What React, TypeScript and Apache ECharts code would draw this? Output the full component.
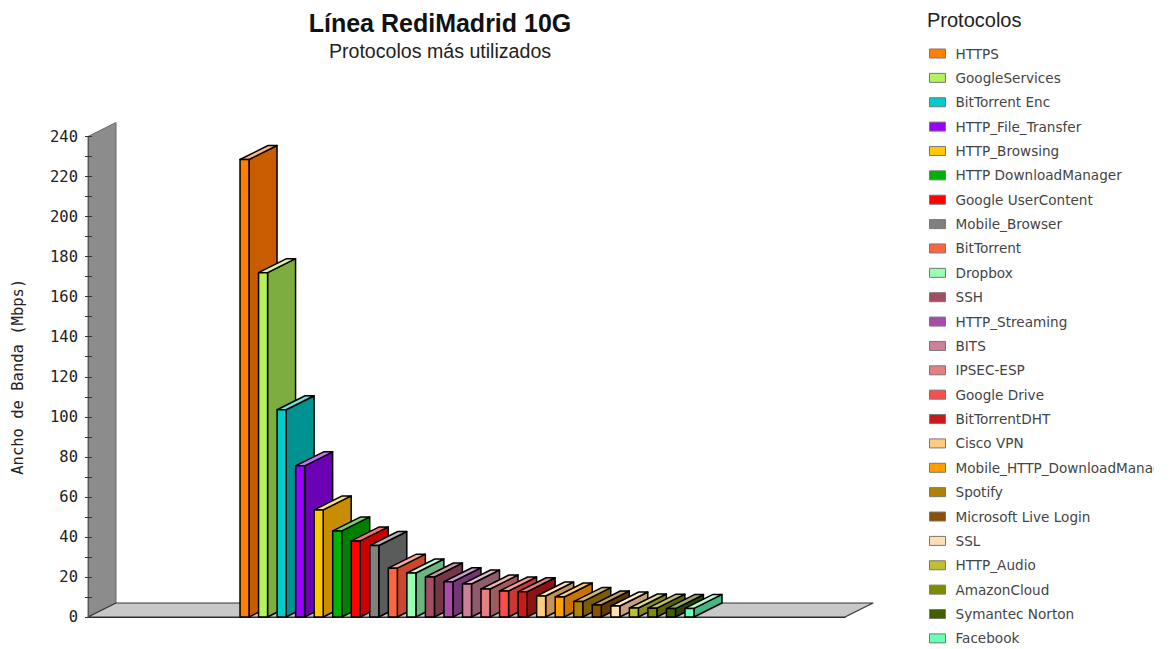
import React, { useEffect, useRef } from "react";
import * as echarts from "echarts";

const protocols = ["HTTPS","GoogleServices","BitTorrent Enc","HTTP_File_Transfer","HTTP_Browsing","HTTP DownloadManager","Google UserContent","Mobile_Browser","BitTorrent","Dropbox","SSH","HTTP_Streaming","BITS","IPSEC-ESP","Google Drive","BitTorrentDHT","Cisco VPN","Mobile_HTTP_DownloadManager","Spotify","Microsoft Live Login","SSL","HTTP_Audio","AmazonCloud","Symantec Norton","Facebook"];
const bandwidth = [228.5,172,103.5,75.5,53.5,43,38,35.7,24.4,22,20,17.6,16.5,14,13,12.6,10.5,10,7.7,6,5.5,4.5,4.4,4.2,4.3];
const colors = ["#ff8000","#b3f25a","#00cccc","#9900ff","#ffc800","#00b300","#ff0000","#808080","#ff6640","#99ffb3","#a64d66","#a64da6","#cc8099","#e68080","#ff4d4d","#cc1a1a","#ffcc80","#ffa000","#b38000","#8c5000","#ffdfb3","#bfbf33","#808c00","#406000","#66ffb3"];
const minorTicks = [0,10,20,30,40,50,60,70,80,90,100,110,120,130,140,150,160,170,180,190,200,210,220,230,240];
const majorTicks = [0,20,40,60,80,100,120,140,160,180,200,220,240];

const DX = 28, DY = -14, SLOT = 18.54, FRONT = 9;

function rgb(hex: string) {
  const n = parseInt(hex.slice(1), 16);
  return [(n >> 16) & 255, (n >> 8) & 255, n & 255];
}
function side(hex: string) {
  const c = rgb(hex);
  return `rgb(${Math.round(c[0] * (c[0] > 240 ? 0.79 : 0.7))},${Math.round(c[1] * 0.71)},${Math.round(c[2] * 0.71)})`;
}
function tint(hex: string, k: number) {
  const c = rgb(hex).map((v) => Math.round(v + (255 - v) * k));
  return `rgb(${c[0]},${c[1]},${c[2]})`;
}

export default function App() {
  const ref = useRef<HTMLDivElement>(null);
  useEffect(() => {
    const chart = echarts.init(ref.current!, null, { renderer: "svg" });
    const poly = (points: number[][], fill: string, stroke: string, lineWidth = 1.5) => ({
      type: "polygon",
      shape: { points },
      style: { fill, stroke, lineWidth, lineJoin: "round" },
    });
    const walls = {
      type: "custom",
      name: "walls",
      silent: true,
      data: [[0, 0]],
      renderItem: (params: any) => {
        const { x, y, width: w, height: h } = params.coordSys;
        return {
          type: "group",
          children: [
            poly([[x, y + h], [x + DX, y + h + DY], [x + DX, y + DY], [x, y]], "#8c8c8c", "#666666", 1),
            poly([[x, y + h], [x + w, y + h], [x + w + DX, y + h + DY], [x + DX, y + h + DY]], "#c8c8c8", "#333333", 1.2),
          ],
        };
      },
    };
    const bars = protocols.map((name, i) => ({
      type: "custom",
      name,
      itemStyle: { color: colors[i] },
      data: [[0, bandwidth[i]]],
      renderItem: (_: any, api: any) => {
        const base = api.coord([0, 0]);
        const top = api.coord([0, api.value(1)]);
        const l = base[0] + (i - 12) * SLOT - FRONT / 2 + 0.5;
        const r = l + FRONT;
        return {
          type: "group",
          children: [
            poly([[r, base[1]], [r + DX, base[1] + DY], [r + DX, top[1] + DY], [r, top[1]]], side(colors[i]), "#000000"),
            poly([[l, top[1]], [r, top[1]], [r + DX, top[1] + DY], [l + DX, top[1] + DY]], tint(colors[i], 0.45), "#000000"),
            poly([[l, base[1]], [r, base[1]], [r, top[1]], [l, top[1]]], colors[i], "#000000"),
          ],
        };
      },
    }));
    chart.setOption({
      animation: false,
      backgroundColor: "#ffffff",
      title: [
        {
          text: "Línea RediMadrid 10G",
          left: 440,
          top: 10,
          padding: 0,
          textAlign: "center",
          textStyle: { fontFamily: "Liberation Sans", fontSize: 25, fontWeight: "bold", color: "#111111" },
        },
        {
          text: "Protocolos más utilizados",
          left: 440,
          top: 41,
          padding: 0,
          textAlign: "center",
          textStyle: { fontFamily: "Liberation Sans", fontSize: 19.6, fontWeight: "normal", color: "#222222" },
        },
        {
          text: "Protocolos",
          left: 927,
          top: 10,
          padding: 0,
          textStyle: { fontFamily: "Liberation Sans", fontSize: 20, fontWeight: "normal", color: "#222222" },
        },
      ],
      legend: {
        type: "plain",
        orient: "vertical",
        left: 929,
        top: 45,
        padding: 0,
        height: 604,
        icon: "rect",
        itemWidth: 16,
        itemHeight: 9,
        itemGap: 7.37,
        data: protocols,
        selectedMode: false,
        itemStyle: { borderColor: "#777777", borderWidth: 1 },
        textStyle: { fontFamily: "DejaVu Sans", fontSize: 13.6, color: "#444444", padding: [0, 0, 0, 5], lineHeight: 17 },
      },
      grid: { left: 88, right: 309, top: 136.5, bottom: 32, outerBoundsMode: "none" },
      xAxis: {
        type: "category",
        data: [""],
        axisLine: { show: true, lineStyle: { color: "#222222" } },
        axisTick: { show: false },
        axisLabel: { show: false },
      },
      yAxis: [
        {
          type: "value",
          min: 0,
          max: 240,
          interval: 20,
          name: "Ancho de Banda (Mbps)",
          nameLocation: "middle",
          nameGap: 62,
          nameTextStyle: { fontFamily: "DejaVu Sans Mono", fontSize: 15.5, color: "#222222" },
          axisLine: { show: true, lineStyle: { color: "#555555" } },
          axisTick: { show: true, length: 3, customValues: minorTicks, lineStyle: { color: "#333333" } },
          axisLabel: { fontFamily: "DejaVu Sans Mono", fontSize: 15.5, color: "#222222", margin: 10, customValues: majorTicks },
          splitLine: { show: false },
          z: 5,
        },
        {
          type: "value",
          min: 0,
          max: 240,
          interval: 20,
          position: "left",
          axisLine: { show: false },
          axisTick: { show: true, inside: true, length: 4, customValues: minorTicks, lineStyle: { color: "#333333" } },
          axisLabel: { show: false },
          splitLine: { show: false },
          z: 5,
        },
      ],
      series: [walls, ...bars],
    });
    return () => chart.dispose();
  }, []);
  return (
    <div
      ref={ref}
      style={{ position: "fixed", left: 0, top: 0, width: 1154, height: 649, overflow: "hidden" }}
    />
  );
}
